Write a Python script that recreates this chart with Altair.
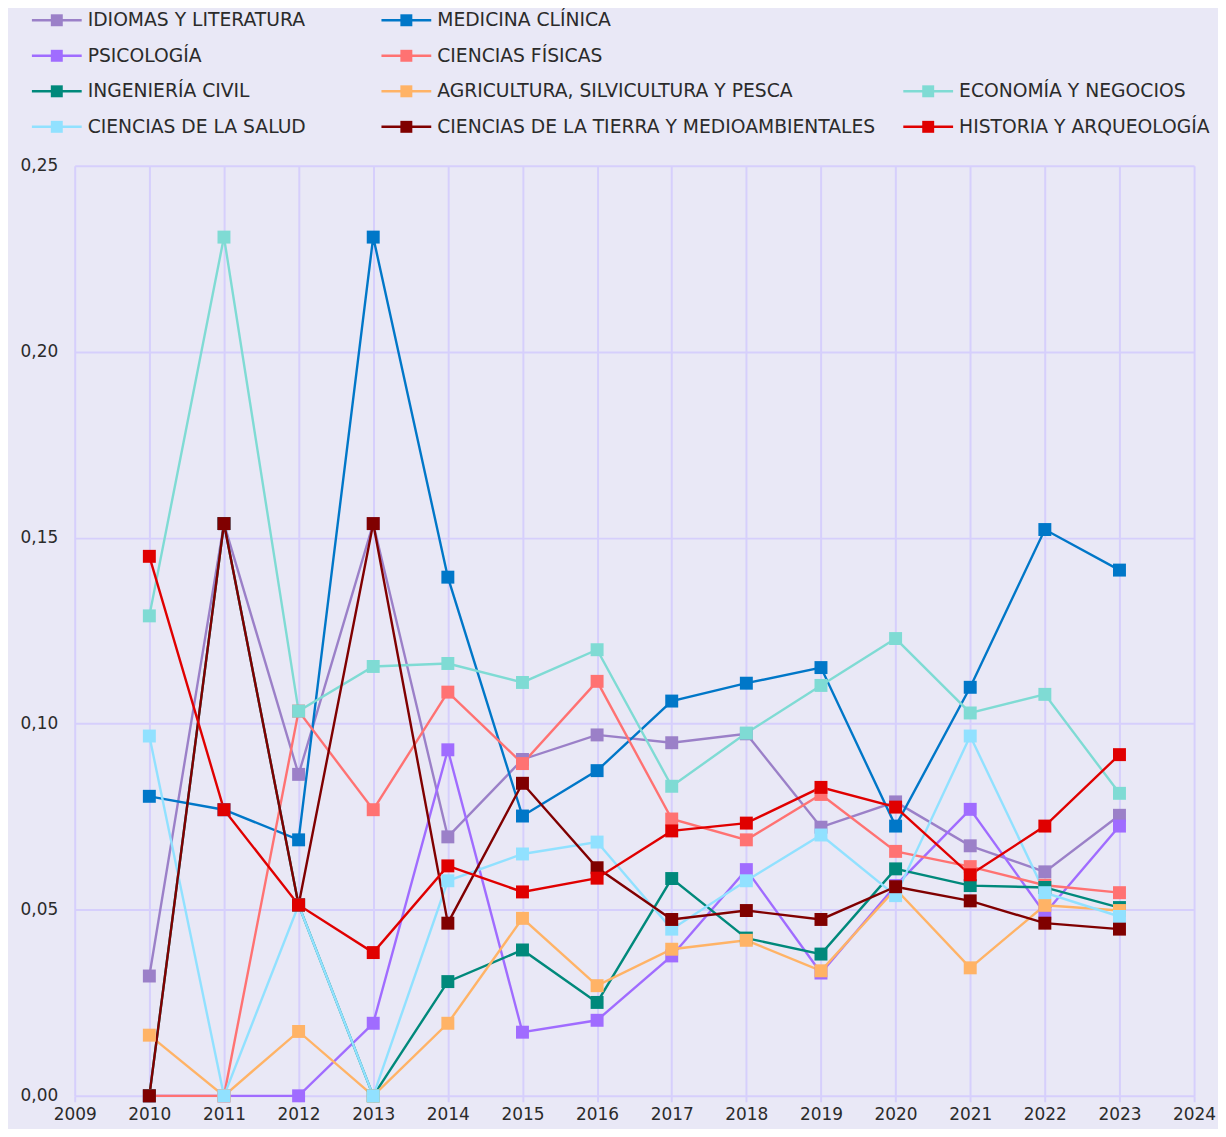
import altair as alt
import pandas as pd

YEARS = list(range(2010, 2024))

SERIES = [
    "IDIOMAS Y LITERATURA",
    "MEDICINA CLÍNICA",
    "PSICOLOGÍA",
    "CIENCIAS FÍSICAS",
    "INGENIERÍA CIVIL",
    "AGRICULTURA, SILVICULTURA Y PESCA",
    "ECONOMÍA Y NEGOCIOS",
    "CIENCIAS DE LA SALUD",
    "CIENCIAS DE LA TIERRA Y MEDIOAMBIENTALES",
    "HISTORIA Y ARQUEOLOGÍA",
]

IDIOMAS = [0.0322, 0.1538, 0.0864, 0.1538, 0.0696, 0.0904, 0.0970, 0.0949, 0.0973, 0.0722, 0.0790, 0.0672, 0.0602, 0.0754]
MEDICINA = [0.0805, 0.0769, 0.0688, 0.2308, 0.1394, 0.0752, 0.0874, 0.1061, 0.1109, 0.1151, 0.0725, 0.1098, 0.1522, 0.1413]
PSICOLOGIA = [0.0, 0.0, 0.0, 0.0195, 0.0930, 0.0171, 0.0203, 0.0376, 0.0608, 0.0330, 0.0565, 0.0770, 0.0490, 0.0725]
FISICAS = [0.0, 0.0, 0.1034, 0.0769, 0.1085, 0.0893, 0.1114, 0.0744, 0.0688, 0.0810, 0.0657, 0.0616, 0.0566, 0.0546]
INGENIERIA = [0.0, 0.1538, 0.0513, 0.0, 0.0307, 0.0392, 0.0251, 0.0584, 0.0424, 0.0381, 0.0610, 0.0565, 0.0560, 0.0506]
AGRICULTURA = [0.0163, 0.0, 0.0173, 0.0, 0.0195, 0.0477, 0.0296, 0.0394, 0.0418, 0.0336, 0.0556, 0.0344, 0.0512, 0.0498]
ECONOMIA = [0.1290, 0.2308, 0.1034, 0.1154, 0.1162, 0.1111, 0.1199, 0.0832, 0.0975, 0.1103, 0.1229, 0.1029, 0.1079, 0.0813]
SALUD = [0.0967, 0.0, 0.0513, 0.0, 0.0578, 0.0650, 0.0682, 0.0448, 0.0578, 0.0701, 0.0538, 0.0967, 0.0546, 0.0482]
TIERRA = [0.0, 0.1538, 0.0513, 0.1538, 0.0464, 0.0840, 0.0613, 0.0474, 0.0498, 0.0474, 0.0562, 0.0524, 0.0464, 0.0448]
HISTORIA = [0.1450, 0.0769, 0.0513, 0.0385, 0.0618, 0.0548, 0.0585, 0.0712, 0.0733, 0.0829, 0.0776, 0.0594, 0.0725, 0.0917]

VALUES = [IDIOMAS, MEDICINA, PSICOLOGIA, FISICAS, INGENIERIA,
          AGRICULTURA, ECONOMIA, SALUD, TIERRA, HISTORIA]

COLORS = ["#9b80c8", "#0077c8", "#a06cff", "#ff7272", "#00897b",
          "#ffb366", "#7fdbd4", "#91e1ff", "#800000", "#e00000"]
MARKER_SIZES = [169, 169, 169, 169, 225, 225, 169, 225, 150, 169]

# legend grid cell (column, row) of each series
LEGEND_COL = [0, 1, 0, 1, 0, 1, 2, 0, 1, 2]
LEGEND_ROW = [0, 0, 1, 1, 2, 2, 2, 3, 3, 3]

FONT = "DejaVu Sans"
GRID = "#d6cffc"
TEXT = "#2b2b2b"

df = pd.DataFrame(
    [{"serie": s, "year": y, "value": v}
     for s, vals in zip(SERIES, VALUES) for y, v in zip(YEARS, vals)]
)
leg_df = pd.DataFrame({"serie": SERIES, "lcol": LEGEND_COL, "lrow": LEGEND_ROW})

color = alt.Color("serie:N", scale=alt.Scale(domain=SERIES, range=COLORS), legend=None)

x = alt.X(
    "year:Q",
    scale=alt.Scale(domain=[2009, 2024], nice=False, zero=False),
    axis=alt.Axis(values=list(range(2009, 2025)), format="d", title=None,
                  tickColor=GRID, tickSize=6, tickWidth=2, labelPadding=5,
                  domain=False, labelFlush=False),
)
y = alt.Y(
    "value:Q",
    scale=alt.Scale(domain=[0, 0.25], nice=False),
    axis=alt.Axis(values=[0, 0.05, 0.10, 0.15, 0.20, 0.25], title=None,
                  labelExpr="replace(format(datum.value, '.2f'), '.', ',')",
                  ticks=False, labelPadding=17, domain=False),
)

lines = alt.Chart(df).mark_line(strokeWidth=2.4).encode(x=x, y=y, color=color)
points = alt.Chart(df).mark_square(filled=True, opacity=1).encode(
    x=x, y=y, color=color,
    size=alt.Size("serie:N", scale=alt.Scale(domain=SERIES, range=MARKER_SIZES), legend=None),
)
main = alt.layer(lines, points)

lx = alt.X("lcol:Q", scale=alt.Scale(domain=[0, 1, 2], range=[-43, 308, 832], nice=False, zero=False), axis=None)
ly = alt.Y("lrow:Q", scale=alt.Scale(domain=[0, 3], range=[-146, -39], nice=False, zero=False), axis=None)

leg_rule = alt.Chart(leg_df).mark_rule(strokeWidth=2.5, x2Offset=50).encode(
    x=lx, x2="lcol:Q", y=ly, color=color)
leg_sq = alt.Chart(leg_df).mark_square(filled=True, opacity=1, size=144, xOffset=25).encode(
    x=lx, y=ly, color=color)
leg_txt = alt.Chart(leg_df).mark_text(align="left", baseline="middle", dx=56, fontSize=18.8,
                                      font=FONT, color=TEXT).encode(x=lx, y=ly, text="serie:N")
legend = alt.layer(leg_rule, leg_sq, leg_txt)

chart = (
    alt.layer(main, legend)
    .resolve_scale(x="independent", y="independent")
    .properties(
        width=1124, height=934,
        autosize=alt.AutoSizeParams(type="none"),
        padding={"left": 67, "top": 156, "right": 24, "bottom": 31},
        background="#e9e8f6",
    )
    .configure_view(stroke=None)
    .configure_axis(
        labelFont=FONT, labelFontSize=17, labelColor=TEXT,
        grid=True, gridColor=GRID, gridWidth=2,
    )
)

chart.save("out.html", embed_options={"renderer": "svg", "actions": False})
